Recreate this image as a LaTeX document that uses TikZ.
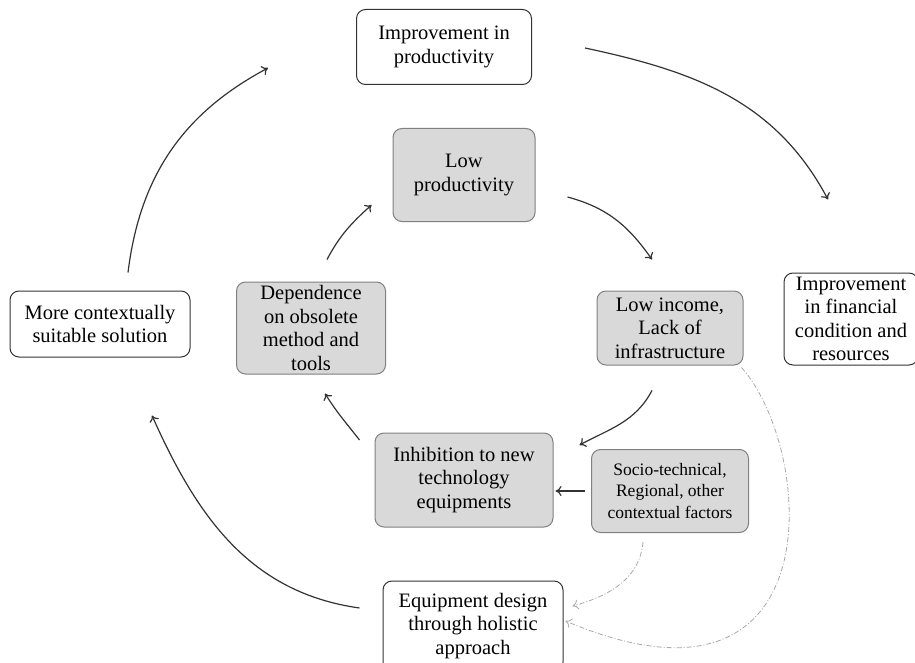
\documentclass[tikz,border=0pt]{standalone}
\usepackage{fontspec}
\setmainfont{Liberation Serif}
\usetikzlibrary{arrows.meta}
\definecolor{boxgray}{HTML}{D9D9D9}
\definecolor{edgegray}{HTML}{808080}
\definecolor{linegray}{HTML}{333333}
\definecolor{dashgray}{HTML}{A8A8A8}

\tikzset{
  whitebox/.style={draw=linegray, line width=1pt, rounded corners=9pt, fill=white,
    align=center, inner sep=0pt, font=\fontsize{20.5}{23.5}\selectfont},
  graybox/.style={whitebox, draw=edgegray, fill=boxgray},
  flow/.style={-{To[length=6pt,width=10pt]}, line width=1.2pt, draw=linegray},
  hint/.style={-{To[length=6pt,width=10pt]}, line width=0.8pt, draw=dashgray,
    dash pattern=on 5pt off 2pt on 1pt off 2pt}
}

\begin{document}
\begin{tikzpicture}[x=1pt,y=1pt]
    \useasboundingbox (0,0) rectangle (915,-663);

    % outer cycle
    \node[whitebox, minimum width=175, minimum height=75] (impprod) at (444,-47) {Improvement in\\productivity};
    \node[whitebox, minimum width=134, minimum height=92] (impfin) at (851,-319) {Improvement\\in financial\\condition and\\resources};
    \node[whitebox, minimum width=180, minimum height=90] (equip) at (473,-626) {Equipment design\\through holistic\\approach};
    \node[whitebox, minimum width=180, minimum height=66] (morectx) at (100,-324) {More contextually\\suitable solution};

    % inner cycle
    \node[graybox, minimum width=142, minimum height=93] (lowprod) at (464,-175) {Low\\productivity};
    \node[graybox, minimum width=146, minimum height=74] (lowinc) at (670,-328) {Low income,\\Lack of\\infrastructure};
    \node[graybox, minimum width=178, minimum height=94] (inhib) at (464,-480) {Inhibition to new\\technology\\equipments};
    \node[graybox, minimum width=149, minimum height=92] (depend) at (311,-328) {Dependence\\on obsolete\\method and\\tools};
    \node[graybox, minimum width=157, minimum height=83, font=\fontsize{17.5}{21.5}\selectfont] (socio) at (670,-491) {Socio-technical,\\Regional, other\\contextual factors};

    \draw[flow] ([xshift=28pt,yshift=18pt]morectx.north) to[out=83,in=208] ([xshift=-88pt,yshift=-21pt]impprod.west);
    \draw[flow] ([xshift=53pt,yshift=-1pt]impprod.east) to[out=-12,in=118] ([xshift=-23pt,yshift=73pt]impfin.north);
    \draw[flow] ([xshift=-23pt,yshift=18pt]equip.west) to[out=172,in=-66] ([xshift=52pt,yshift=-58pt]morectx.south);

    \draw[flow] ([xshift=16pt,yshift=22pt]depend.north) to[out=62,in=222] ([xshift=-21pt,yshift=-30pt]lowprod.west);
    \draw[flow] ([xshift=32pt,yshift=-22pt]lowprod.east) to[out=-15,in=125] ([xshift=-18pt,yshift=31pt]lowinc.north);
    \draw[flow] ([xshift=-18pt,yshift=-25pt]lowinc.south) to[out=-118,in=28] ([xshift=26pt,yshift=35pt]inhib.east);
    \draw[flow] ([xshift=-15pt,yshift=40pt]inhib.west) to[out=128,in=-58] ([xshift=14pt,yshift=-19pt]depend.south);
    \draw[flow, shorten <=6pt, shorten >=2pt] (socio.west) -- (inhib.east |- socio.west);

    % dashed influences
    \draw[hint] ([xshift=-27pt,yshift=-9pt]socio.south) to[out=-95,in=15] ([xshift=9pt,yshift=20pt]equip.east);
    \draw[hint] ([xshift=-2pt,yshift=-2pt]lowinc.south east) .. controls (815,-450) and (835,-735) .. ([xshift=2pt,yshift=5pt]equip.east);
\end{tikzpicture}
\end{document}
